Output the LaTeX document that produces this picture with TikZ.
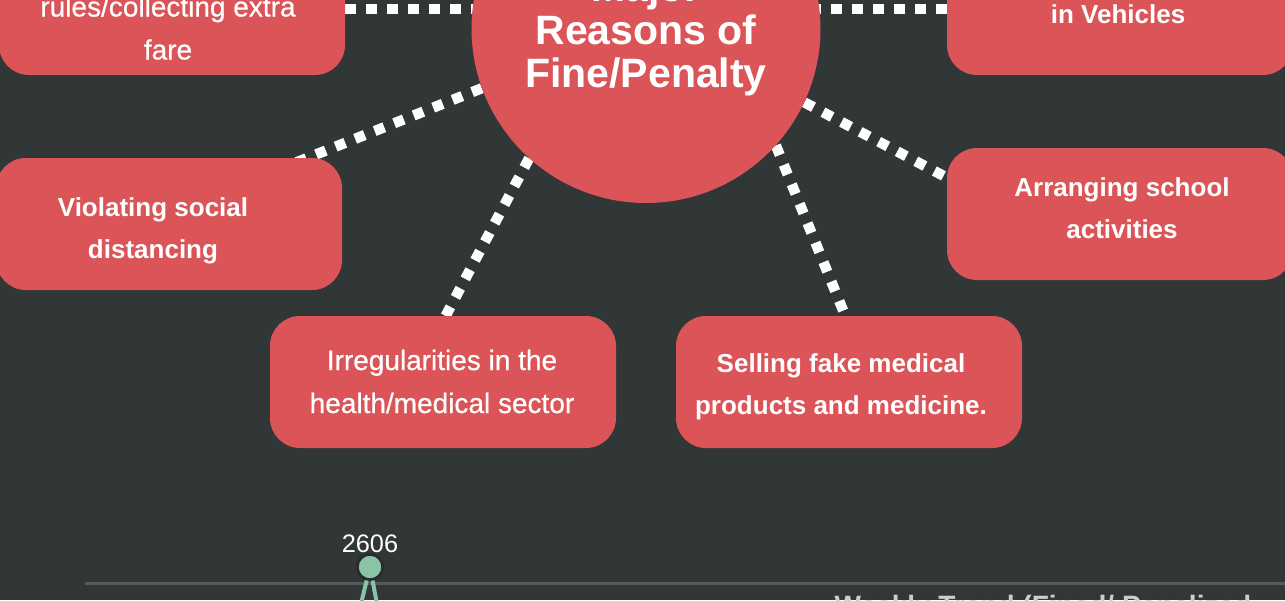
\documentclass[tikz,border=0pt]{standalone}
\usepackage{fontspec}
\setmainfont{Liberation Sans}
\usetikzlibrary{calc}

\definecolor{fundal}{RGB}{49,54,55}
\definecolor{rosu}{RGB}{219,84,87}
\definecolor{verde}{RGB}{139,196,165}
\definecolor{axa}{RGB}{86,90,91}
\definecolor{inel}{RGB}{40,44,45}
\definecolor{gricuri}{RGB}{205,207,207}

\begin{document}
\begin{tikzpicture}[x=0.75pt, y=-0.75pt,
    forma/.style={rounded corners=22.5pt, minimum width=259.5pt,
      minimum height=99pt, inner sep=0pt},
    motiv/.style={forma, fill=rosu},
    cercgol/.style={circle, minimum size=261.75pt, inner sep=0pt},
    cerc/.style={cercgol, fill=rosu},
    puncte/.style={white, line width=7.75pt, dash pattern=on 7.75pt off 8pt},
    txtb/.style={white, align=center, font=\fontsize{19.5}{31.5}\selectfont\bfseries},
    txtr/.style={white, align=center,
      font=\fontsize{21}{32.25}\selectfont\addfontfeature{FakeBold=0.6}}]
    % Cadru (pixeli, y in jos)
    \useasboundingbox (0,0) rectangle (1285,600);
    \clip (0,0) rectangle (1285,600);
    \fill[fundal] (0,0) rectangle (1285,600);
    % Pozitii: cercul central si cutiile (doar ancore)
    \path (646,28.5) node[cercgol] (circ) {};
    \path (172,9)    node[forma] (tlbox) {};
    \path (1120,9)   node[forma] (trbox) {};
    \path (169,224)  node[forma] (vsd) {};
    \path (1120,214) node[forma] (asc) {};
    \path (443,382)  node[forma] (irr) {};
    \path (849,382)  node[forma] (sfm) {};
    % Capete ascunse sub cutii
    \coordinate (vsdcap) at ($(vsd.north east)+(-92,23)$);
    \coordinate (irrcap) at ($(irr.north)+(-10,24)$);
    \coordinate (sfmcap) at ($(sfm.north)+(6,24)$);
    \coordinate (asccap) at ($(asc.west)+(33,-19)$);
    % Linii punctate (sub forme)
    \draw[puncte] (tlbox.east) -- (circ.center |- tlbox.east);
    \draw[puncte] (trbox.west) -- (circ.center |- trbox.west);
    \draw[puncte] (circ.200) -- (vsdcap);
    \draw[puncte] (circ.228) -- (irrcap);
    \draw[puncte] (circ.318) -- (sfmcap);
    \draw[puncte] (circ.335) -- (asccap);
    % Formele peste linii
    \node[cerc]  at (circ)  {};
    \node[motiv] at (tlbox) {};
    \node[motiv] at (trbox) {};
    \node[motiv] at (vsd)   {};
    \node[motiv] at (asc)   {};
    \node[motiv] at (irr)   {};
    \node[motiv] at (sfm)   {};
    % Titlu
    \node[white, align=center, font=\fontsize{30.75}{32.25}\selectfont\bfseries]
      (titlu) at (646,33.5) {Major\\Reasons of\\Fine/Penalty};
    % Texte in cutii
    \node[txtr] (tltxt) at (168,28) {rules/collecting extra\\fare};
    \node[txtb, anchor=base] (trtxt) at (1118,23) {in Vehicles};
    \node[txtb] (vsdtxt) at (153,231) {Violating social\\distancing};
    \node[txtb] (asctxt) at (1122,208.7) {Arranging school\\activities};
    \node[txtr] (irrtxt) at (442,381.5) {Irregularities in the\\health/medical sector};
    \node[txtb] (sfmtxt) at (841,387) {Selling fake medical\\products and medicine.};
    % Grafic jos: axa, punct, valoare
    \draw[axa, line width=2.25pt] (85,583) -- (1290,583);
    \node[circle, draw=inel, line width=2pt, minimum size=19pt,
      inner sep=0pt] (pct) at (370,567) {};
    \coordinate (pctst) at (357,620);
    \coordinate (pctdr) at (380,620);
    \draw[verde, line width=3pt] (pct.center) -- (pctst);
    \draw[verde, line width=3pt] (pct.center) -- (pctdr);
    \node[circle, fill=verde, draw=inel, line width=2pt, minimum size=19pt,
      inner sep=0pt] at (pct) {};
    \node[white, font=\fontsize{19}{20}\selectfont, anchor=base] (val) at (370,552) {2606};
    \node[gricuri, font=\fontsize{21}{24}\selectfont\bfseries, anchor=base west]
      (trend) at (830,615) {Weekly Trend (Fined/ Penalized};
\end{tikzpicture}
\end{document}
